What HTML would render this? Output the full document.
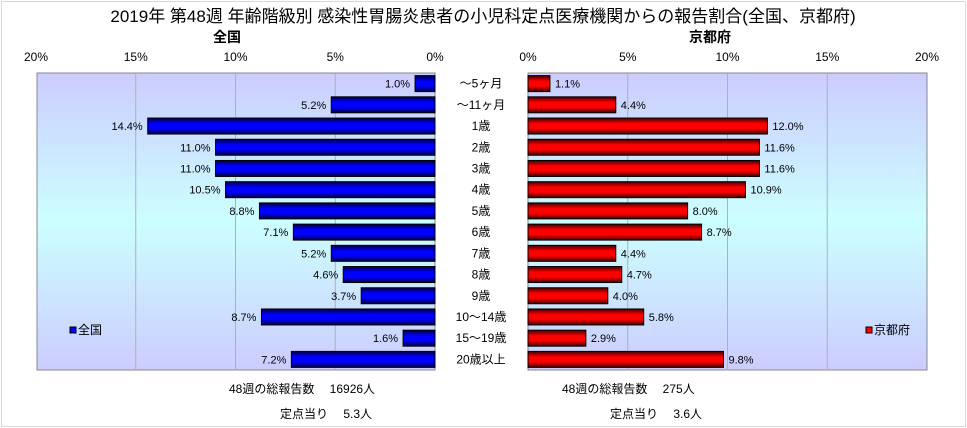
<!DOCTYPE html>
<html><head><meta charset="utf-8"><style>
html,body{margin:0;padding:0;background:#fff;}
svg{display:block;font-family:"Liberation Sans","Noto Sans CJK JP",sans-serif;}
</style></head><body>
<svg id="c" width="967" height="428" viewBox="0 0 967 428">
<defs>
<linearGradient id="bg" x1="0" y1="0" x2="0" y2="1">
<stop offset="0" stop-color="#ccccff"/><stop offset="0.5" stop-color="#ccffff"/><stop offset="1" stop-color="#ccccff"/>
</linearGradient>
<linearGradient id="bb" x1="0" y1="0" x2="0" y2="1">
<stop offset="0" stop-color="#000040"/><stop offset="0.35" stop-color="#0000ff"/><stop offset="0.65" stop-color="#0000ff"/><stop offset="1" stop-color="#000040"/>
</linearGradient>
<linearGradient id="rb" x1="0" y1="0" x2="0" y2="1">
<stop offset="0" stop-color="#400000"/><stop offset="0.35" stop-color="#ff0000"/><stop offset="0.65" stop-color="#ff0000"/><stop offset="1" stop-color="#400000"/>
</linearGradient>
</defs>
<rect x="1.5" y="1.5" width="964" height="425" fill="#fff" stroke="#d8d8d8"/>
<text x="483" y="22" font-size="17" text-anchor="middle">2019年 第48週 年齢階級別 感染性胃腸炎患者の小児科定点医療機関からの報告割合(全国、京都府)</text>
<text x="227" y="42" font-size="14" font-weight="bold" text-anchor="middle">全国</text>
<text x="710" y="42" font-size="14" font-weight="bold" text-anchor="middle">京都府</text>
<rect x="37" y="73" width="398" height="297" fill="url(#bg)" stroke="#888"/>
<rect x="528" y="73" width="399" height="297" fill="url(#bg)" stroke="#888"/>
<g id="g"></g>
<rect x="70" y="327" width="6" height="6" fill="#0000ff" stroke="#000"/>
<text x="78" y="334" font-size="12">全国</text>
<rect x="866" y="327" width="6" height="6" fill="#ff0000" stroke="#000"/>
<text x="874" y="334" font-size="12">京都府</text>
<text x="229" y="393" font-size="12">48週の総報告数　 16926人</text>
<text x="280" y="418" font-size="12">定点当り　 5.3人</text>
<text x="562" y="393" font-size="12">48週の総報告数　 275人</text>
<text x="610" y="418" font-size="12">定点当り　 3.6人</text>
</svg>
<script>
const categories=["～5ヶ月","～11ヶ月","1歳","2歳","3歳","4歳","5歳","6歳","7歳","8歳","9歳","10～14歳","15～19歳","20歳以上"];
const nationalValues=[1.0,5.2,14.4,11.0,11.0,10.5,8.8,7.1,5.2,4.6,3.7,8.7,1.6,7.2];
const kyotoValues=[1.1,4.4,12.0,11.6,11.6,10.9,8.0,8.7,4.4,4.7,4.0,5.8,2.9,9.8];
const tickValues=[0,5,10,15,20];
const NS="http://www.w3.org/2000/svg";
const g=document.getElementById('g');
const pxPer=19.95;
const lx=v=>435-v*pxPer;
const rx=v=>528+v*pxPer;
const top0=73,rowH=297/categories.length;
const yc=i=>top0+rowH*(i+0.5);
function mk(t,a){const e=document.createElementNS(NS,t);for(const k in a)e.setAttribute(k,a[k]);g.appendChild(e);return e;}
tickValues.forEach(t=>{
 if(t>0&&t<20){
  const l1=mk('line',{x1:lx(t),x2:lx(t),y1:73,y2:370,stroke:'#b0b0b0'});
  
  
  const l2=mk('line',{x1:rx(t),x2:rx(t),y1:73,y2:370,stroke:'#b0b0b0'});
  
  
 }
 const a=mk('text',{x:lx(t),y:61,'font-size':12,'text-anchor':'middle'});a.textContent=t+'%';
 
 
 const b=mk('text',{x:rx(t),y:61,'font-size':12,'text-anchor':'middle'});b.textContent=t+'%';
 
 
});
categories.forEach((c,i)=>{
 const y=yc(i);
 const cl=mk('text',{x:481,y:y+4,'font-size':12,'text-anchor':'middle'});cl.textContent=c;
 
 
 const nv=nationalValues[i];
 const b1=mk('rect',{x:lx(nv),y:y-8,width:lx(0)-lx(nv),height:16,fill:'url(#bb)',stroke:'#000'});
 
 
 const t1=mk('text',{x:lx(nv)-5,y:y+4,'font-size':11,'text-anchor':'end'});t1.textContent=nv.toFixed(1)+'%';
 
 
 const kv=kyotoValues[i];
 const b2=mk('rect',{x:rx(0),y:y-8,width:rx(kv)-rx(0),height:16,fill:'url(#rb)',stroke:'#000'});
 
 
 const t2=mk('text',{x:rx(kv)+5,y:y+4,'font-size':11});t2.textContent=kv.toFixed(1)+'%';
 
 
});
</script>
</body></html>
